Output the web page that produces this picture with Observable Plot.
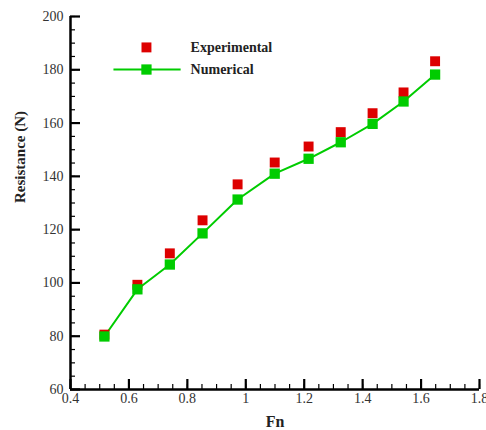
<!DOCTYPE html>
<html>
<head>
<meta charset="utf-8">
<script src="https://cdn.jsdelivr.net/npm/d3@7"></script>
<script src="https://cdn.jsdelivr.net/npm/@observablehq/plot@0.6"></script>
<style>
  html, body { margin: 0; padding: 0; background: #fff; }
  #chart { width: 486px; height: 430px; }
</style>
</head>
<body>
<div id="chart"></div>
<script>
const fn = [0.516, 0.629, 0.740, 0.852, 0.972, 1.099, 1.215, 1.325, 1.434, 1.540, 1.648];
const experimental = [80.6, 99.3, 111.1, 123.5, 137.0, 145.2, 151.2, 156.6, 163.7, 171.5, 183.2];
const numerical = [79.9, 97.6, 106.9, 118.6, 131.3, 141.0, 146.6, 152.8, 159.7, 168.1, 178.2];
const xTicks = [0.4, 0.6, 0.8, 1.0, 1.2, 1.4, 1.6, 1.8];
const yTicks = [60, 80, 100, 120, 140, 160, 180, 200];
const seriesNames = ["Experimental", "Numerical"];

const RED = "#dd0000";
const GREEN = "#00cc00";
const FONT = "Liberation Serif, DejaVu Serif, serif";

const expData = fn.map((x, i) => ({x, y: experimental[i]}));
const numData = fn.map((x, i) => ({x, y: numerical[i]}));

const xMinor = d3.range(0.4, 1.8001, 0.05).map(v => +v.toFixed(2));
const yMinor = d3.range(60, 200.001, 5);

const fmtX = d => d === 1 ? "1" : d3.format(".1f")(d);

const chart = Plot.plot({
  width: 486,
  height: 430,
  marginLeft: 70,
  marginRight: 7,
  marginTop: 16,
  marginBottom: 41,
  style: {fontFamily: FONT, fontSize: "14px", color: "#333", background: "#fff"},
  x: {domain: [0.4, 1.8]},
  y: {domain: [60, 200]},
  marks: [
    // minor ticks (inward)
    Plot.axisX({ticks: xMinor, tickSize: -5, tickFormat: () => "", label: null, stroke: "#000", strokeWidth: 1.2}),
    Plot.axisY({ticks: yMinor, tickSize: -5, tickFormat: () => "", label: null, stroke: "#000", strokeWidth: 1.2}),
    // major ticks (inward)
    Plot.axisX({ticks: xTicks, tickSize: -10, tickPadding: 14, tickFormat: fmtX, label: null, stroke: "#000", strokeWidth: 2.2, fill: "#333", fontSize: 14, fontFamily: FONT}),
    Plot.axisY({ticks: yTicks, tickSize: -10, tickPadding: 17, tickFormat: d => String(d), label: null, stroke: "#000", strokeWidth: 2.2, fill: "#333", fontSize: 14, fontFamily: FONT}),
    Plot.ruleX([0.4], {stroke: "#000", strokeWidth: 2.5}),
    Plot.ruleY([60], {stroke: "#000", strokeWidth: 2.5}),
    // data
    Plot.line(numData, {x: "x", y: "y", stroke: GREEN, strokeWidth: 2}),
    Plot.dot(expData, {x: "x", y: "y", symbol: "square", r: 5.6, fill: RED}),
    Plot.dot(numData, {x: "x", y: "y", symbol: "square", r: 5.8, fill: GREEN}),
    // legend
    Plot.dot([seriesNames[0]], {x: () => 0.66, y: () => 188.4, symbol: "square", r: 5.6, fill: RED}),
    Plot.link([seriesNames[1]], {x1: () => 0.547, x2: () => 0.777, y1: () => 180.1, y2: () => 180.1, stroke: GREEN, strokeWidth: 2}),
    Plot.dot([seriesNames[1]], {x: () => 0.66, y: () => 180.1, symbol: "square", r: 5.8, fill: GREEN}),
    Plot.text(seriesNames, {x: () => 0.811, y: (d, i) => i === 0 ? 188.4 : 180.1, text: d => d, textAnchor: "start", fontWeight: "bold", fontSize: 14, fill: "#222", fontFamily: FONT}),
    // axis labels
    Plot.text(["Fn"], {frameAnchor: "bottom", dy: 37, text: d => d, fontWeight: "bold", fontSize: 16, fill: "#222", fontFamily: FONT}),
    Plot.text(["Resistance (N)"], {frameAnchor: "left", dx: -50, rotate: -90, text: d => d, fontWeight: "bold", fontSize: 15, fill: "#222", fontFamily: FONT})
  ]
});
document.getElementById("chart").appendChild(chart);
</script>
</body>
</html>
